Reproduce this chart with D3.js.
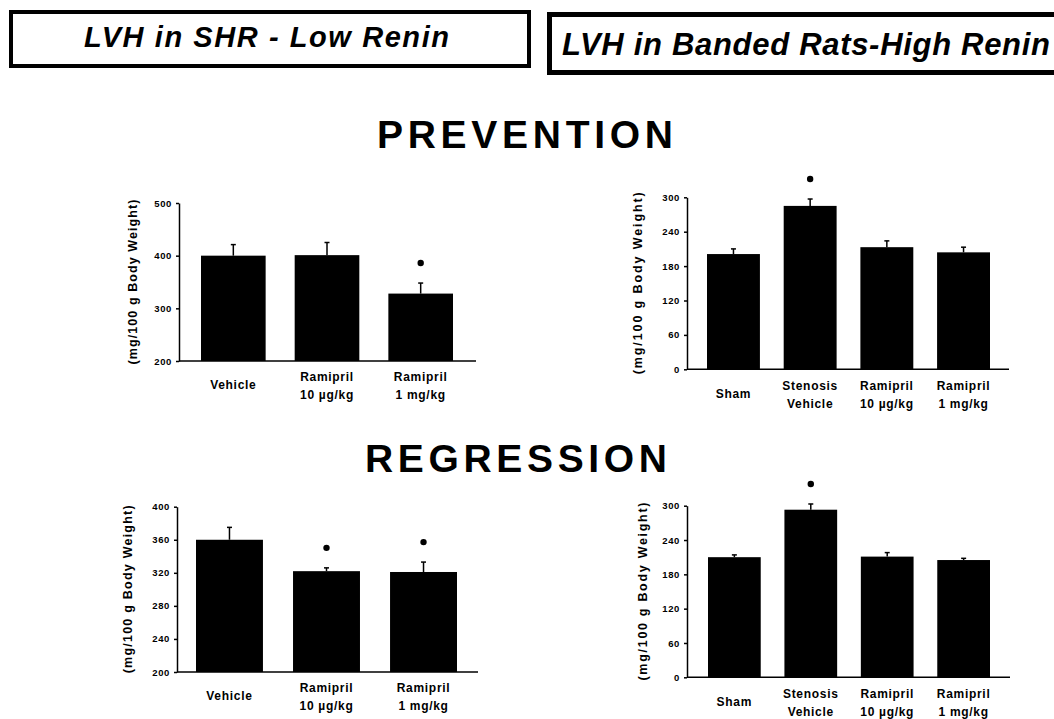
<!DOCTYPE html>
<html>
<head>
<meta charset="utf-8">
<script src="https://cdn.jsdelivr.net/npm/d3@7"></script>
<style>
  body { margin: 0; background: #fff; }
  text { font-family: "Liberation Sans", Arial, sans-serif; font-weight: bold; fill: #000; }
</style>
</head>
<body>
<div id="chart"></div>
<script>
// ---- data ----
const shrCats = [["Vehicle"], ["Ramipril", "10 µg/kg"], ["Ramipril", "1 mg/kg"]];
const bandCats = [["Sham"], ["Stenosis", "Vehicle"], ["Ramipril", "10 µg/kg"], ["Ramipril", "1 mg/kg"]];

const prevShrMean = [400, 401, 328];
const prevShrSem = [21, 24, 20];
const prevShrSig = [false, false, true];
const prevShrTicks = [200, 300, 400, 500];

const prevBandMean = [201, 285, 213, 204];
const prevBandSem = [9, 12, 11, 9];
const prevBandSig = [false, true, false, false];
const bandTicks = [0, 60, 120, 180, 240, 300];

const regShrMean = [360, 322, 321];
const regShrSem = [15, 4, 12];
const regShrSig = [false, true, true];
const regShrTicks = [200, 240, 280, 320, 360, 400];

const regBandMean = [210, 293, 211, 205];
const regBandSem = [4, 10, 7, 3];
const regBandSig = [false, true, false, false];

const yLabel = "(mg/100 g Body Weight)";

const width = 1054, height = 719;

const svg = d3.select("#chart")
    .append("svg")
    .attr("width", width)
    .attr("height", height);

// header boxes
svg.append("rect")
    .attr("x", 11).attr("y", 12).attr("width", 518).attr("height", 54)
    .attr("fill", "none").attr("stroke", "#000").attr("stroke-width", 4);
svg.append("text")
    .attr("x", 84).attr("y", 47)
    .attr("font-size", 29).attr("font-style", "italic")
    .attr("textLength", 365).attr("lengthAdjust", "spacing")
    .text("LVH in SHR - Low Renin");

svg.append("rect")
    .attr("x", 549.5).attr("y", 14.5).attr("width", 600).attr("height", 58)
    .attr("fill", "none").attr("stroke", "#000").attr("stroke-width", 5);
svg.append("text")
    .attr("x", 562).attr("y", 54.5)
    .attr("font-size", 31).attr("font-style", "italic")
    .attr("textLength", 488).attr("lengthAdjust", "spacing")
    .text("LVH in Banded Rats-High Renin");

// section titles
svg.append("text")
    .attr("x", 525).attr("y", 148).attr("text-anchor", "middle")
    .attr("font-size", 39).attr("textLength", 296).attr("lengthAdjust", "spacing")
    .text("PREVENTION");
svg.append("text")
    .attr("x", 516).attr("y", 471.5).attr("text-anchor", "middle")
    .attr("font-size", 39).attr("textLength", 302).attr("lengthAdjust", "spacing")
    .text("REGRESSION");

// one bar panel
function panel(cfg) {
    const g = svg.append("g");

    const y = d3.scaleLinear()
        .domain([cfg.ticks[0], cfg.ticks[cfg.ticks.length - 1]])
        .range([cfg.yBot, cfg.yTop]);

    const x = d3.scaleBand()
        .domain(d3.range(cfg.cats.length))
        .range([cfg.b0, cfg.b1])
        .paddingInner(0.31)
        .paddingOuter(0);

    // bars
    g.selectAll("rect.bar")
        .data(cfg.mean)
        .join("rect")
        .attr("class", "bar")
        .attr("x", (d, i) => x(i))
        .attr("width", x.bandwidth())
        .attr("y", d => y(d))
        .attr("height", d => y(cfg.ticks[0]) - y(d))
        .attr("fill", "#000");

    // error bars (upward only)
    const cap = 2.5;
    cfg.mean.forEach(function (m, i) {
        const cx = x(i) + x.bandwidth() / 2;
        const top = y(m + cfg.sem[i]);
        g.append("line")
            .attr("x1", cx).attr("x2", cx)
            .attr("y1", y(m)).attr("y2", top)
            .attr("stroke", "#000").attr("stroke-width", 1.5);
        g.append("line")
            .attr("x1", cx - cap).attr("x2", cx + cap)
            .attr("y1", top).attr("y2", top)
            .attr("stroke", "#000").attr("stroke-width", 1.5);
        if (cfg.sig[i]) {
            g.append("circle")
                .attr("cx", cx).attr("cy", top - 20)
                .attr("r", 3.2).attr("fill", "#000");
        }
    });

    // y axis
    const yAxis = g.append("g")
        .attr("transform", `translate(${cfg.x0},0)`)
        .call(d3.axisLeft(y).tickValues(cfg.ticks).tickSize(3).tickSizeOuter(0).tickPadding(4)
            .tickFormat(d3.format("d")));
    yAxis.select(".domain").attr("stroke-width", 1.5);
    yAxis.selectAll(".tick line").attr("stroke-width", 1.5);
    yAxis.attr("font-family", null).attr("font-size", null);
    yAxis.selectAll(".tick text")
        .attr("font-size", 9.5)
        .style("letter-spacing", "0.6px");

    // baseline
    g.append("line")
        .attr("x1", cfg.x0).attr("x2", cfg.x1)
        .attr("y1", y(cfg.ticks[0])).attr("y2", y(cfg.ticks[0]))
        .attr("stroke", "#000").attr("stroke-width", 1.5);

    // category labels
    cfg.cats.forEach(function (lines, i) {
        const cx = x(i) + x.bandwidth() / 2;
        const base = y(cfg.ticks[0]);
        const offs = lines.length === 1 ? [24] : [16, 34];
        lines.forEach(function (t, j) {
            g.append("text")
                .attr("x", cx).attr("y", base + offs[j])
                .attr("dy", "0.35em")
                .attr("text-anchor", "middle")
                .attr("font-size", 12)
                .style("letter-spacing", "0.7px")
                .text(t);
        });
    });

    // y label
    const my = (cfg.yTop + cfg.yBot) / 2;
    g.append("text")
        .attr("transform", `translate(${cfg.labX},${my}) rotate(-90)`)
        .attr("text-anchor", "middle")
        .attr("dy", "0.35em")
        .attr("font-size", 12.5)
        .attr("textLength", cfg.labLen).attr("lengthAdjust", "spacing")
        .text(yLabel);
}

panel({cats: shrCats, mean: prevShrMean, sem: prevShrSem, sig: prevShrSig, ticks: prevShrTicks,
    x0: 179, x1: 476, yTop: 203, yBot: 361, b0: 201, b1: 453, labX: 133, labLen: 165});
panel({cats: bandCats, mean: prevBandMean, sem: prevBandSem, sig: prevBandSig, ticks: bandTicks,
    x0: 687, x1: 1009, yTop: 197.3, yBot: 369.3, b0: 707, b1: 990, labX: 638, labLen: 182});
panel({cats: shrCats, mean: regShrMean, sem: regShrSem, sig: regShrSig, ticks: regShrTicks,
    x0: 177, x1: 478, yTop: 506.7, yBot: 672, b0: 196, b1: 457, labX: 128, labLen: 168});
panel({cats: bandCats, mean: regBandMean, sem: regBandSem, sig: regBandSig, ticks: bandTicks,
    x0: 687, x1: 1010, yTop: 505.7, yBot: 677.3, b0: 708, b1: 990, labX: 643, labLen: 178});
</script>
</body>
</html>
